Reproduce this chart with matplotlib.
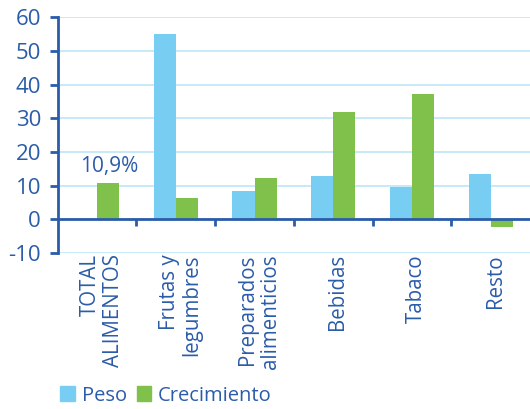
import numpy as np
import matplotlib.pyplot as plt
from matplotlib.patches import Patch

categorias = ["TOTAL\nALIMENTOS", "Frutas y\nlegumbres", "Preparados\nalimenticios",
              "Bebidas", "Tabaco", "Resto"]
peso = [np.nan, 55.1, 8.5, 12.9, 9.5, 13.5]
crecimiento = [10.9, 6.3, 12.3, 31.8, 37.1, -2.1]

azul = "#2B5CA9"
celeste = "#77CEF2"
verde = "#80C14C"

plt.rcParams['font.family'] = ['Open Sans', 'DejaVu Sans']
plt.rcParams['axes.unicode_minus'] = False

fig = plt.figure(figsize=(5.3, 4.09), dpi=100)
ax = fig.add_axes([0.109, 0.381, 0.891, 0.577])

x = np.arange(len(categorias))
w = 0.28
ax.bar(x - w / 2, peso, w, color=celeste, zorder=3)
ax.bar(x + w / 2, crecimiento, w, color=verde, zorder=3)

ax.set_xlim(-0.5, 5.5)
ax.set_ylim(-10, 60)
ax.set_yticks(range(-10, 61, 10))
ax.yaxis.grid(True, color="#BDE5F6", lw=1.2, zorder=0)
ax.tick_params(axis='y', colors=azul, labelcolor=azul, labelsize=16, length=6, width=2, pad=6)

ax.spines['top'].set_visible(False)
ax.spines['right'].set_visible(False)
ax.spines['left'].set_color(azul)
ax.spines['left'].set_linewidth(2)
ax.spines['bottom'].set_position(('data', 0))
ax.spines['bottom'].set_color(azul)
ax.spines['bottom'].set_linewidth(2)
ax.spines['bottom'].set_zorder(4)

# ticks at the boundaries between groups, labels below the plot
ax.set_xticks(np.arange(0.5, 5, 1))
ax.set_xticklabels([])
ax.tick_params(axis='x', which='major', colors=azul, length=5, width=2)
ax.set_xticks(x + 0.06, minor=True)
ax.set_xticklabels(categorias, minor=True, rotation=90, fontsize=14.8, color=azul,
                   multialignment='right', linespacing=1.12)
ax.tick_params(axis='x', which='minor', length=0, pad=25)

ax.text(0.15, 15.6, "10,9%", color=azul, fontsize=15, ha='center', va='center')

handles = [Patch(color=celeste, label="Peso"), Patch(color=verde, label="Crecimiento")]
leg = fig.legend(handles=handles, loc='center left', bbox_to_anchor=(0.114, 0.033), ncol=2,
                 frameon=False, fontsize=14.5, handlelength=0.7, handleheight=0.7,
                 handletextpad=0.35, columnspacing=0.5, borderpad=0, borderaxespad=0)
for t in leg.get_texts():
    t.set_color(azul)

fig.savefig("out.png", dpi=100)
